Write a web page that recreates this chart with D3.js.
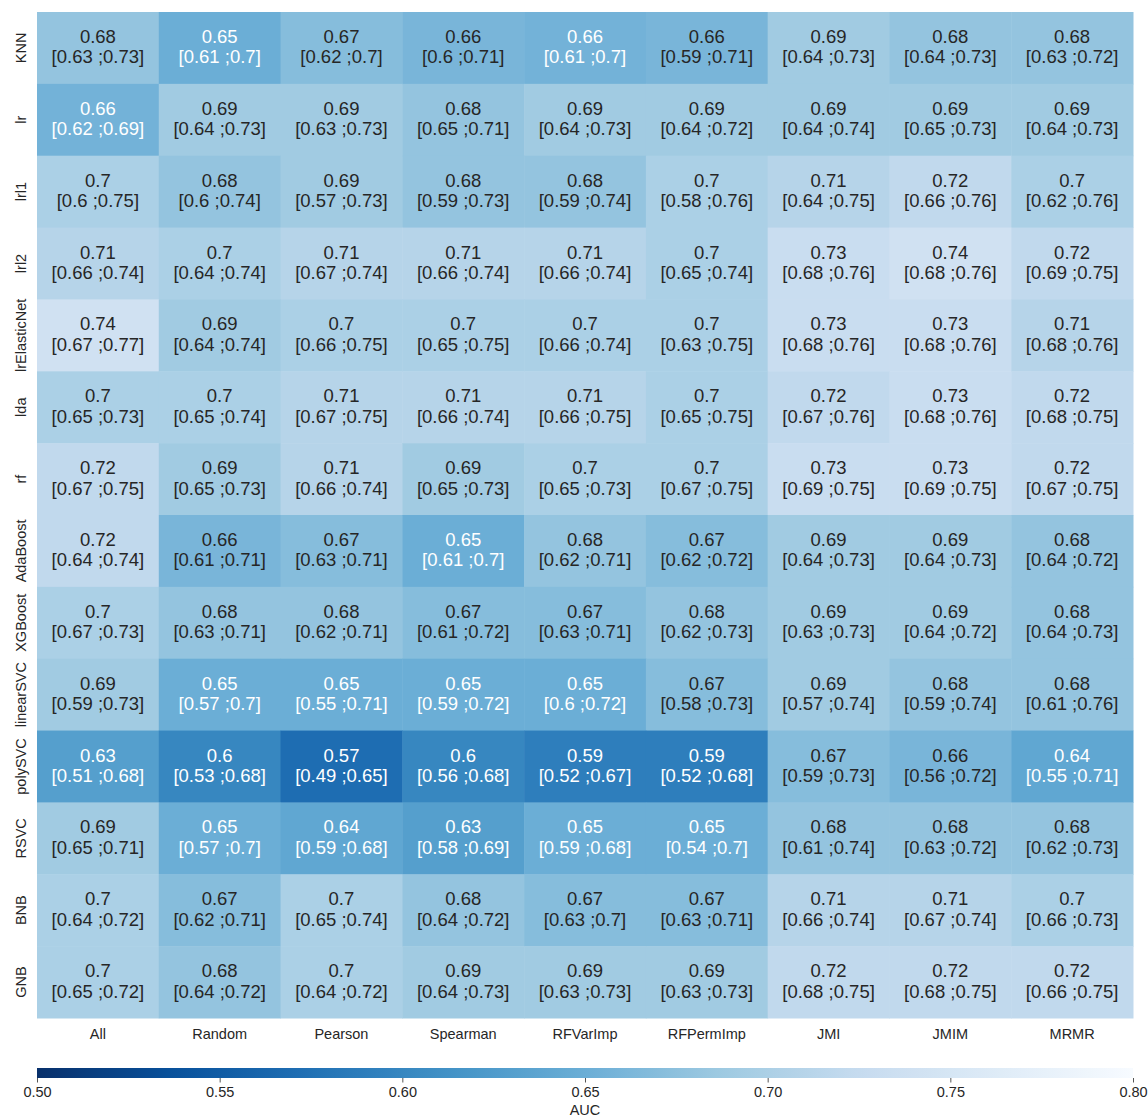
<!DOCTYPE html>
<html>
<head>
<meta charset="utf-8">
<script src="https://cdn.jsdelivr.net/npm/d3@7"></script>
<style>
  html, body { margin: 0; padding: 0; background: #ffffff; }
  svg { display: block; font-family: "Liberation Sans", Arial, sans-serif; }
</style>
</head>
<body>
<svg id="chart" width="1148" height="1119"></svg>
<script>
const models = ["KNN","lr","lrl1","lrl2","lrElasticNet","lda","rf","AdaBoost","XGBoost","linearSVC","polySVC","RSVC","BNB","GNB"];
const methods = ["All","Random","Pearson","Spearman","RFVarImp","RFPermImp","JMI","JMIM","MRMR"];

// mean AUC (estimated; cell colour and rounded label)
const auc = [
  [0.68,0.65,0.67,0.66,0.656,0.66,0.69,0.68,0.68],
  [0.656,0.69,0.69,0.68,0.69,0.69,0.69,0.69,0.69],
  [0.70,0.68,0.69,0.68,0.68,0.70,0.71,0.72,0.70],
  [0.71,0.70,0.71,0.71,0.71,0.70,0.73,0.74,0.72],
  [0.74,0.69,0.70,0.70,0.70,0.70,0.73,0.73,0.71],
  [0.70,0.70,0.71,0.71,0.71,0.70,0.72,0.73,0.72],
  [0.72,0.69,0.71,0.69,0.70,0.70,0.73,0.73,0.72],
  [0.72,0.66,0.67,0.65,0.68,0.67,0.69,0.69,0.68],
  [0.70,0.68,0.68,0.67,0.67,0.68,0.69,0.69,0.68],
  [0.69,0.65,0.65,0.65,0.65,0.67,0.69,0.68,0.68],
  [0.63,0.60,0.57,0.60,0.59,0.59,0.67,0.66,0.64],
  [0.69,0.65,0.64,0.63,0.65,0.65,0.68,0.68,0.68],
  [0.70,0.67,0.70,0.68,0.67,0.67,0.71,0.71,0.70],
  [0.70,0.68,0.70,0.69,0.69,0.69,0.72,0.72,0.72]
];
const ciLow = [
  [0.63,0.61,0.62,0.6,0.61,0.59,0.64,0.64,0.63],
  [0.62,0.64,0.63,0.65,0.64,0.64,0.64,0.65,0.64],
  [0.6,0.6,0.57,0.59,0.59,0.58,0.64,0.66,0.62],
  [0.66,0.64,0.67,0.66,0.66,0.65,0.68,0.68,0.69],
  [0.67,0.64,0.66,0.65,0.66,0.63,0.68,0.68,0.68],
  [0.65,0.65,0.67,0.66,0.66,0.65,0.67,0.68,0.68],
  [0.67,0.65,0.66,0.65,0.65,0.67,0.69,0.69,0.67],
  [0.64,0.61,0.63,0.61,0.62,0.62,0.64,0.64,0.64],
  [0.67,0.63,0.62,0.61,0.63,0.62,0.63,0.64,0.64],
  [0.59,0.57,0.55,0.59,0.6,0.58,0.57,0.59,0.61],
  [0.51,0.53,0.49,0.56,0.52,0.52,0.59,0.56,0.55],
  [0.65,0.57,0.59,0.58,0.59,0.54,0.61,0.63,0.62],
  [0.64,0.62,0.65,0.64,0.63,0.63,0.66,0.67,0.66],
  [0.65,0.64,0.64,0.64,0.63,0.63,0.68,0.68,0.66]
];
const ciHigh = [
  [0.73,0.7,0.7,0.71,0.7,0.71,0.73,0.73,0.72],
  [0.69,0.73,0.73,0.71,0.73,0.72,0.74,0.73,0.73],
  [0.75,0.74,0.73,0.73,0.74,0.76,0.75,0.76,0.76],
  [0.74,0.74,0.74,0.74,0.74,0.74,0.76,0.76,0.75],
  [0.77,0.74,0.75,0.75,0.74,0.75,0.76,0.76,0.76],
  [0.73,0.74,0.75,0.74,0.75,0.75,0.76,0.76,0.75],
  [0.75,0.73,0.74,0.73,0.73,0.75,0.75,0.75,0.75],
  [0.74,0.71,0.71,0.7,0.71,0.72,0.73,0.73,0.72],
  [0.73,0.71,0.71,0.72,0.71,0.73,0.73,0.72,0.73],
  [0.73,0.7,0.71,0.72,0.72,0.73,0.74,0.74,0.76],
  [0.68,0.68,0.65,0.68,0.67,0.68,0.73,0.72,0.71],
  [0.71,0.7,0.68,0.69,0.68,0.7,0.74,0.72,0.73],
  [0.72,0.71,0.74,0.72,0.7,0.71,0.74,0.74,0.73],
  [0.72,0.72,0.72,0.73,0.73,0.73,0.75,0.75,0.75]
];
const colorTicks = [0.50,0.55,0.60,0.65,0.70,0.75,0.80];
const colorLabel = "AUC";

// matplotlib "Blues" (reversed: low = dark)
const blues = ["#f7fbff","#deebf7","#c6dbef","#9ecae1","#6baed6","#4292c6","#2171b5","#08519c","#08306b"];
const vmin = 0.5, vmax = 0.8;
const color = d3.scaleLinear()
  .domain(d3.range(9).map(i => vmin + (vmax - vmin) * i / 8))
  .range(blues.slice().reverse())
  .interpolate(d3.interpolateRgb)
  .clamp(true);

function luminance(c) {
  const rgb = d3.rgb(c);
  const f = v => { v /= 255; return v <= 0.03928 ? v / 12.92 : Math.pow((v + 0.055) / 1.055, 2.4); };
  return 0.2126 * f(rgb.r) + 0.7152 * f(rgb.g) + 0.0722 * f(rgb.b);
}

const svg = d3.select("#chart");
const plotLeft = 37, plotRight = 1133, plotTop = 12, plotBottom = 1018;

const x = d3.scaleBand().domain(methods).range([plotLeft, plotRight]).padding(0);
const y = d3.scaleBand().domain(models).range([plotTop, plotBottom]).padding(0);

const cells = [];
models.forEach((m, i) => methods.forEach((k, j) => {
  cells.push({ m, k, v: auc[i][j], lo: ciLow[i][j], hi: ciHigh[i][j] });
}));

const g = svg.append("g");
g.selectAll("rect.cell").data(cells).join("rect")
  .attr("class", "cell")
  .attr("x", d => x(d.k))
  .attr("y", d => y(d.m))
  .attr("width", x.bandwidth() + 0.5)
  .attr("height", y.bandwidth() + 0.5)
  .attr("fill", d => color(d.v));

const fmt = v => String(Math.round(v * 100) / 100);
const txt = g.selectAll("text.cell").data(cells).join("text")
  .attr("class", "cell")
  .attr("text-anchor", "middle")
  .attr("font-size", 18.5)
  .attr("fill", d => luminance(color(d.v)) > 0.408 ? "#262626" : "#ffffff");
txt.append("tspan")
  .attr("x", d => x(d.k) + x.bandwidth() / 2)
  .attr("y", d => y(d.m) + y.bandwidth() / 2 - 5)
  .text(d => fmt(d.v));
txt.append("tspan")
  .attr("x", d => x(d.k) + x.bandwidth() / 2)
  .attr("y", d => y(d.m) + y.bandwidth() / 2 + 15.5)
  .text(d => "[" + fmt(d.lo) + " ;" + fmt(d.hi) + "]");

// Row labels (rotated)
svg.append("g").selectAll("text").data(models).join("text")
  .attr("transform", d => `translate(26,${y(d) + y.bandwidth() / 2}) rotate(-90)`)
  .attr("text-anchor", "middle")
  .attr("font-size", 14.5)
  .attr("fill", "#262626")
  .text(d => d);

// Column labels
svg.append("g").selectAll("text").data(methods).join("text")
  .attr("x", d => x(d) + x.bandwidth() / 2)
  .attr("y", 1038.5)
  .attr("text-anchor", "middle")
  .attr("font-size", 14.5)
  .attr("fill", "#262626")
  .text(d => d);

// Colorbar
const cbTop = 1068, cbH = 10;
const cx = d3.scaleLinear().domain([vmin, vmax]).range([plotLeft, plotRight]);
const defs = svg.append("defs");
const grad = defs.append("linearGradient").attr("id", "cbgrad")
  .attr("x1", "0%").attr("x2", "100%").attr("y1", "0%").attr("y2", "0%");
d3.range(0, 1.0001, 0.02).forEach(t => {
  grad.append("stop").attr("offset", (t * 100) + "%").attr("stop-color", color(vmin + t * (vmax - vmin)));
});
svg.append("rect")
  .attr("x", cx(vmin)).attr("y", cbTop)
  .attr("width", cx(vmax) - cx(vmin)).attr("height", cbH)
  .attr("fill", "url(#cbgrad)");

const axis = d3.axisBottom(cx).tickValues(colorTicks).tickFormat(d3.format(".2f")).tickSize(4.5).tickPadding(4);
const ag = svg.append("g").attr("transform", `translate(0,${cbTop + cbH})`).call(axis);
ag.select(".domain").remove();
ag.selectAll(".tick line").attr("stroke", "#555").attr("stroke-width", 1);
ag.selectAll(".tick text").attr("font-size", 14.5).attr("fill", "#262626")
  .attr("font-family", "Liberation Sans, Arial, sans-serif");

svg.append("text")
  .attr("x", (plotLeft + plotRight) / 2).attr("y", 1115)
  .attr("text-anchor", "middle")
  .attr("font-size", 14.5)
  .attr("fill", "#262626")
  .text(colorLabel);
</script>
</body>
</html>
